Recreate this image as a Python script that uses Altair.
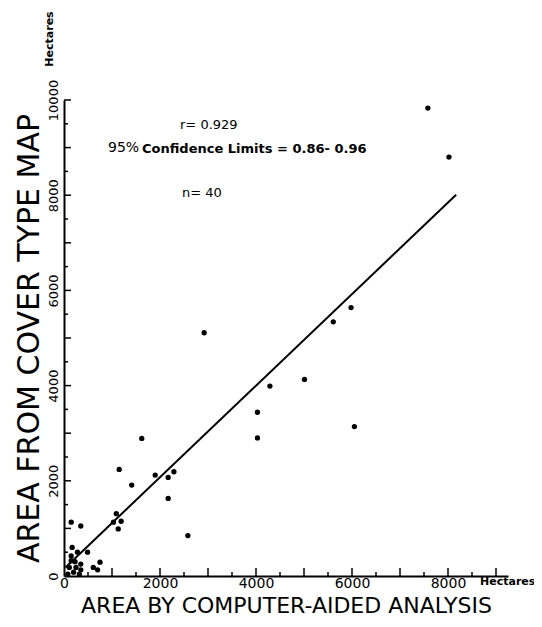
import altair as alt
import pandas as pd

# Values (hectares)
area_computer = [7580, 8020, 2920, 5980, 5610, 5010, 4290, 4030, 4030, 6050,
                 1620, 1150, 1900, 1410, 2170, 2290, 2170, 2580, 1090, 1030,
                 1190, 1130, 150, 350, 170, 150, 280, 490, 150, 110,
                 250, 350, 350, 200, 610, 700, 750, 80, 320, 230]
area_map = [9830, 8800, 5110, 5640, 5340, 4130, 3990, 3440, 2900, 3140,
            2890, 2240, 2120, 1910, 2070, 2190, 1630, 850, 1310, 1130,
            1150, 990, 1130, 1050, 600, 420, 500, 500, 320, 180,
            180, 250, 130, 80, 180, 130, 290, 40, 40, 300]

fit_x = [30, 8170]
fit_y = [180, 8010]

x_label_values = [0, 2000, 4000, 6000, 8000]
y_label_values = [0, 2000, 4000, 6000, 8000, 10000]
x_ticks_major = [1000, 2000, 3000, 4000, 5000, 6000, 7000, 8000, 9000]
x_ticks_minor = [500, 1500, 2500, 3500, 4500, 5500, 6500, 7500, 8500]
y_ticks_major = [1000, 2000, 3000, 4000, 5000, 6000, 7000, 8000, 9000, 10000]
y_ticks_minor = [500, 1500, 2500, 3500, 4500, 5500, 6500, 7500, 8500, 9500]

FONT = "DejaVu Sans"

xs = alt.Scale(domain=[0, 9250], nice=False, zero=True)
ys = alt.Scale(domain=[0, 10000], nice=False, zero=True)

xaxis = alt.Axis(values=x_label_values, format="d", title="AREA BY COMPUTER-AIDED ANALYSIS",
                 ticks=False, tickSize=0, grid=False, domainColor="black", domainWidth=2,
                 labelFont=FONT, labelFontSize=14, labelColor="black", labelPadding=0,
                 labelBaseline="top", labelFlush=False, labelOverlap=False,
                 titleFont=FONT, titleFontSize=22, titleFontWeight="normal", titleColor="black",
                 titleY=29, titleBaseline="middle")
yaxis = alt.Axis(values=y_label_values, format="d", title="AREA FROM COVER TYPE MAP",
                 ticks=False, tickSize=0, grid=False, domainColor="black", domainWidth=2,
                 labelFont=FONT, labelFontSize=13, labelColor="black", labelPadding=7,
                 labelAngle=270, labelAlign="center", labelBaseline="alphabetic",
                 labelFlush=False, labelOverlap=False,
                 titleFont=FONT, titleFontSize=30, titleFontWeight="normal", titleColor="black",
                 titleAngle=270, titleX=-35, titleBaseline="middle", titleAlign="center")

X = lambda: alt.X("computer:Q", scale=xs, axis=xaxis)
Y = lambda: alt.Y("map:Q", scale=ys, axis=yaxis)

pts = pd.DataFrame({"computer": area_computer, "map": area_map})
fit = pd.DataFrame({"computer": fit_x, "map": fit_y})

points = alt.Chart(pts).mark_circle(size=28, color="black", opacity=1).encode(x=X(), y=Y())
line = alt.Chart(fit).mark_line(color="black", strokeWidth=2).encode(x=X(), y=Y())


def xticks(values, length):
    return alt.Chart(pd.DataFrame({"computer": values})).mark_rule(
        color="black", strokeWidth=1.5, y2Offset=-length
    ).encode(x=X(), y=alt.datum(0), y2=alt.datum(0))


def yticks(values, length):
    return alt.Chart(pd.DataFrame({"map": values})).mark_rule(
        color="black", strokeWidth=1.5, x2Offset=length
    ).encode(y=Y(), x=alt.datum(0), x2=alt.datum(0))


def note(text, x, y, size=13, weight="normal", align="left", angle=0):
    return alt.Chart().mark_text(
        text=text, align=align, baseline="middle", font=FONT, fontSize=size,
        fontWeight=weight, color="black", angle=angle
    ).encode(x=alt.datum(x), y=alt.datum(y))


notes = [
    note("r= 0.929", 2417, 9475),
    note("95%", 917, 8992, size=14),
    note("Confidence  Limits =  0.86- 0.96", 1625, 8970, size=13, weight="bold"),
    note("n= 40", 2458, 8046),
    note("Hectares", 8667, -120, size=11, weight="bold"),
    note("Hectares", -292, 11282, size=11, weight="bold", align="center", angle=270),
]

chart = alt.layer(
    xticks(x_ticks_major, 8), xticks(x_ticks_minor, 4),
    yticks(y_ticks_major, 7), yticks(y_ticks_minor, 4),
    line, points, *notes
).properties(
    width=444, height=476,
    autosize=alt.AutoSizeParams(type="none"),
    padding={"left": 56, "top": 92, "right": 26, "bottom": 40},
    background="white",
).configure_view(stroke=None)

chart.save("out.html", embed_options={"renderer": "svg", "actions": False})
